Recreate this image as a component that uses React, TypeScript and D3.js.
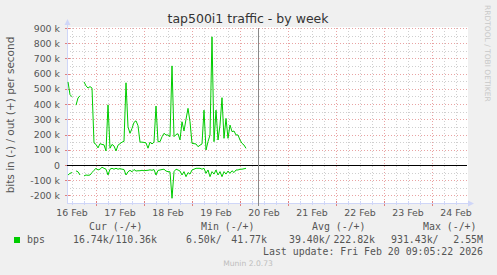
import React from "react";
import * as d3 from "d3";

const W = 497;
const H = 275;

const title = "tap500i1 traffic - by week";
const yAxisTitle = "bits in (-) / out (+) per second";
const vendorText = "RRDTOOL / TOBI OETIKER";
const dayLabels = ["16 Feb", "17 Feb", "18 Feb", "19 Feb", "20 Feb", "21 Feb", "22 Feb", "23 Feb", "24 Feb"];
const yTickValues = [-200, -100, 0, 100, 200, 300, 400, 500, 600, 700, 800, 900];
const yTickLabels = ["-200 k", "-100 k", "0", "100 k", "200 k", "300 k", "400 k", "500 k", "600 k", "700 k", "800 k", "900 k"];

// hourly samples, starting 16 Feb 10:00, values in kbit/s
const sampleStart = new Date(2026, 1, 16, 10, 0, 0);
const outK: (number | null)[] = [
  546, 462, 448, null, 393, 440, 455, null, 546, 520,
  505, 515, 505, 145, 135, 112, 140, 135, 132, 92,
  395, 110, 135, 125, 92, 130, 140, 150, 155, 540,
  250, 208, 240, 280, 290, 258, 150, 150, 148, 145,
  110, 150, 138, 150, 387, 153, 153, 185, 208, 197,
  197, 186, 651, 186, 200, 205, 165, 284, 223, 300,
  372, 284, 142, 140, 138, 120, 130, 138, 360, 98,
  153, 197, 842, 153, 360, 164, 262, 442, 175, 306,
  175, 262, 219, 223, 197, 197, 164, 142, 131, 109,
];
const inK: (number | null)[] = [
  -66, -55, -50, null, -39, -45, -66, null, -72, -66,
  -68, -66, -50, -35, -22, -33, -28, -15, -22, -28,
  -66, -28, -22, -28, -22, -28, -24, -28, -30, -66,
  -45, -35, -45, -30, -40, -38, -38, -35, -38, -36,
  -35, -32, -35, -30, -66, -36, -33, -30, -28, -40,
  -44, -45, -219, -44, -28, -33, -40, -66, -44, -77,
  -50, -60, -33, -28, -22, -22, -22, -28, -22, -55,
  -33, -77, -44, -60, -33, -66, -44, -77, -44, -60,
  -40, -55, -38, -50, -33, -33, -28, -28, -25, -22,
];

const legendName = "bps";
const legendHeaders = ["Cur (-/+)", "Min (-/+)", "Avg (-/+)", "Max (-/+)"];
const legendIn = ["16.74k/", "6.50k/", "39.40k/", "931.43k/"];
const legendOut = ["110.36k", "41.77k", "222.82k", "2.55M"];
const lastUpdate = "Last update: Fri Feb 20 09:05:22 2026";
const footer = "Munin 2.0.73";

const viewStart = new Date(2026, 1, 16, 9, 30, 0);
const viewEnd = new Date(2026, 1, 24, 17, 30, 0);
const nowTime = new Date(2026, 1, 20, 9, 5, 22);

const SANS = "'DejaVu Sans', Verdana, sans-serif";
const MONO = "'DejaVu Sans Mono', monospace";
const GREEN = "#00cc00";
const AXIS = "#cfd6f8";
const MAJOR = "#e9a3a3";
const MINOR = "#cfcfcf";

export default function App() {
  const left = 67, right = 467, top = 28, bottom = 203;
  const x = d3.scaleTime().domain([viewStart, viewEnd]).range([left, right]);
  const y = d3.scaleLinear().domain([-250, 900]).range([bottom, top]);
  const px = (v: number) => Math.round(v) + 0.5;

  const times = outK.map((_, i) => d3.timeHour.offset(sampleStart, i));
  const line = d3
    .line<number | null>()
    .defined((d) => d !== null)
    .x((_, i) => x(times[i]))
    .y((d) => y(d as number));

  const minorX = d3.timeHour.every(6)!.range(viewStart, viewEnd).filter((t) => t.getHours() !== 0);
  const majorX = d3.timeDay.range(viewStart, viewEnd);
  const labelTimes = dayLabels.map((_, i) => d3.timeDay.offset(new Date(2026, 1, 16, 12, 0, 0), i));
  const minorY = d3.range(-250, 901, 50).filter((v) => v % 100 !== 0 && v > -250);

  const legendX = [89, 201, 312, 423];
  const inX = [73, 186, 289, 391];
  const outX = [157, 267, 375, 483];

  return (
    <svg width={W} height={H} style={{ position: "absolute", left: 0, top: 0 }} xmlns="http://www.w3.org/2000/svg">
      <rect x={0} y={0} width={W} height={H} fill="#f0f0f0" />
      <rect x={left} y={top - 1} width={right - left + 1} height={bottom - top + 1} fill="#ffffff" />
      {/* minor grid */}
      {minorX.map((t, i) => (
        <line key={"mx" + i} x1={px(x(t))} x2={px(x(t))} y1={top} y2={bottom} stroke={MINOR} strokeDasharray="1,2" />
      ))}
      {minorY.map((v, i) => (
        <line key={"my" + i} x1={left} x2={right} y1={px(y(v))} y2={px(y(v))} stroke={MINOR} strokeDasharray="1,2" />
      ))}
      {/* major grid */}
      {majorX.map((t, i) => (
        <line key={"Mx" + i} x1={px(x(t))} x2={px(x(t))} y1={top} y2={bottom} stroke={MAJOR} strokeDasharray="1,2" />
      ))}
      {yTickValues.map((v, i) => (
        <line key={"My" + i} x1={left} x2={right} y1={px(y(v))} y2={px(y(v))} stroke={MAJOR} strokeDasharray="1,2" />
      ))}
      {/* axis tick marks */}
      {minorX.map((t, i) => (
        <line key={"tx" + i} x1={px(x(t))} x2={px(x(t))} y1={bottom - 2} y2={bottom + 2} stroke={AXIS} />
      ))}
      {majorX.map((t, i) => (
        <line key={"Tx" + i} x1={px(x(t))} x2={px(x(t))} y1={bottom - 2} y2={bottom + 3} stroke="#e08080" />
      ))}
      {yTickValues.map((v, i) => (
        <line key={"Ty" + i} x1={left - 2} x2={left + 3} y1={px(y(v))} y2={px(y(v))} stroke="#e08080" />
      ))}
      {/* axes */}
      <line x1={left + 0.5} x2={left + 0.5} y1={bottom + 0.5} y2={top - 6} stroke={AXIS} />
      <line x1={left} x2={right + 2} y1={bottom + 0.5} y2={bottom + 0.5} stroke={AXIS} />
      <path d={`M${left - 2.5},${top - 3} L${left + 0.5},${top - 9} L${left + 3.5},${top - 3} Z`} fill={AXIS} />
      <path d={`M${right + 1},${bottom - 2.5} L${right + 7},${bottom + 0.5} L${right + 1},${bottom + 3.5} Z`} fill={AXIS} />
      {/* data */}
      <path d={line(outK) || ""} fill="none" stroke={GREEN} strokeWidth={1} />
      <path d={line(inK) || ""} fill="none" stroke={GREEN} strokeWidth={1} />
      {/* zero rule */}
      <line x1={left} x2={right} y1={px(y(0))} y2={px(y(0))} stroke="#000000" strokeWidth={1.2} />
      {/* now rule */}
      <line x1={px(x(nowTime))} x2={px(x(nowTime))} y1={top} y2={bottom + 3} stroke="#8a8a8a" />
      {/* labels */}
      <text x={248} y={23} textAnchor="middle" fontFamily={SANS} fontSize={12.5} fill="#333">{title}</text>
      <text transform="translate(14,115) rotate(-90)" textAnchor="middle" fontFamily={SANS} fontSize={10.5} fill="#555">{yAxisTitle}</text>
      <text transform="translate(485,5) rotate(90)" textAnchor="start" fontFamily={SANS} fontSize={7.5} fill="#c8c8c8">{vendorText}</text>
      {yTickValues.map((v, i) => (
        <text key={"yl" + i} x={60} y={y(v) + 3.6} textAnchor="end" fontFamily={SANS} fontSize={9.4} fill="#555">{yTickLabels[i]}</text>
      ))}
      {labelTimes.map((t, i) => (
        <text key={"xl" + i} x={x(t)} y={216} textAnchor="middle" fontFamily={SANS} fontSize={9.4} fill="#555">{dayLabels[i]}</text>
      ))}
      {/* legend */}
      {legendHeaders.map((h, i) => (
        <text key={"lh" + i} x={legendX[i]} y={230} fontFamily={MONO} fontSize={9.9} fill="#555">{h}</text>
      ))}
      <rect x={14} y={237} width={6} height={6} fill={GREEN} />
      <text x={27} y={243} fontFamily={MONO} fontSize={9.9} fill="#555">{legendName}</text>
      {legendIn.map((s, i) => (
        <text key={"li" + i} x={inX[i]} y={243} fontFamily={MONO} fontSize={9.9} fill="#555">{s}</text>
      ))}
      {legendOut.map((s, i) => (
        <text key={"lo" + i} x={outX[i]} y={243} textAnchor="end" fontFamily={MONO} fontSize={9.9} fill="#555">{s}</text>
      ))}
      <text x={483} y={255} textAnchor="end" fontFamily={MONO} fontSize={9.9} fill="#555">{lastUpdate}</text>
      <text x={248} y={266} textAnchor="middle" fontFamily={SANS} fontSize={7.6} fill="#bdbdbd">{footer}</text>
    </svg>
  );
}
